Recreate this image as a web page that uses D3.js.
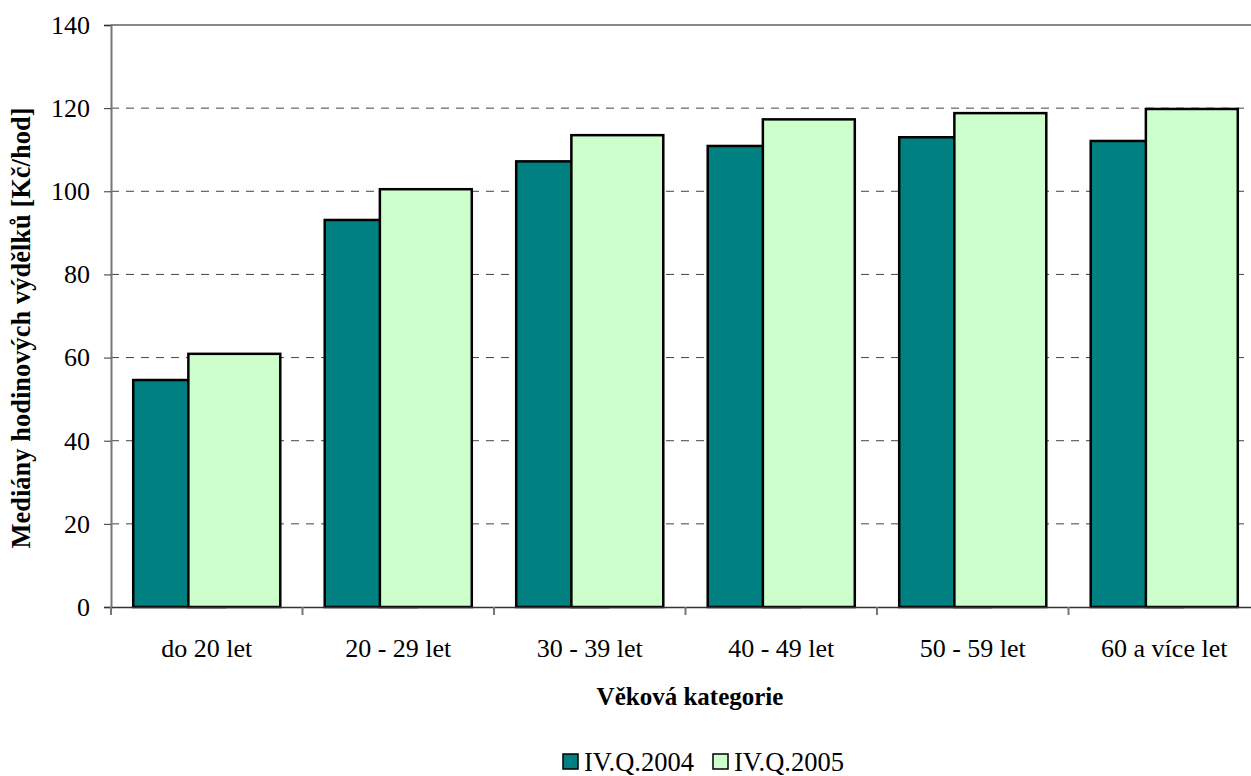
<!DOCTYPE html>
<html>
<head>
<meta charset="utf-8">
<script src="https://cdn.jsdelivr.net/npm/d3@7"></script>
<style>
  body { margin: 0; background: #fff; }
  svg { display: block; font-family: "Liberation Serif", "Times New Roman", serif; }
</style>
</head>
<body>
<div id="chart"></div>
<script>
// Data
const categories = ["do 20 let", "20 - 29 let", "30 - 39 let", "40 - 49 let", "50 - 59 let", "60 a více let"];
const seriesNames = ["IV.Q.2004", "IV.Q.2005"];
const values2004 = [54.6, 93.1, 107.2, 110.9, 113.0, 112.1];
const values2005 = [60.9, 100.5, 113.5, 117.3, 118.8, 119.8];
const yTicks = [0, 20, 40, 60, 80, 100, 120, 140];
const colors = ["#008080", "#ccffcc"];

const W = 1251, H = 776;
const plot = { left: 111, top: 25, right: 1260, bottom: 607 };

const svg = d3.select("#chart").append("svg")
    .attr("width", W)
    .attr("height", H);

// Scales
const x0 = d3.scaleBand()
    .domain(categories)
    .range([plot.left, plot.right]);

const y = d3.scaleLinear()
    .domain([0, 140])
    .range([plot.bottom, plot.top]);

// Bar geometry (Excel style: gap + overlap)
const barW = x0.bandwidth() * 0.48;
const offset = barW * 0.6;
const groupW = barW + offset;

// Gridlines
svg.append("g")
    .selectAll("line")
    .data(yTicks.filter(d => d > 0 && d < 140))
    .join("line")
    .attr("x1", plot.left)
    .attr("x2", plot.right)
    .attr("y1", d => y(d))
    .attr("y2", d => y(d))
    .attr("stroke", "#444")
    .attr("stroke-width", 1)
    .attr("stroke-dasharray", "8,7");

// Plot border top/right
svg.append("line")
    .attr("x1", plot.left).attr("x2", plot.right)
    .attr("y1", plot.top).attr("y2", plot.top)
    .attr("stroke", "#888").attr("stroke-width", 2);
svg.append("line")
    .attr("x1", plot.right).attr("x2", plot.right)
    .attr("y1", plot.top).attr("y2", plot.bottom)
    .attr("stroke", "#888").attr("stroke-width", 2);

// Bars
const series = [values2004, values2005];
series.forEach((vals, si) => {
    svg.append("g")
        .selectAll("rect")
        .data(vals)
        .join("rect")
        .attr("x", (d, i) => x0(categories[i]) + (x0.bandwidth() - groupW) / 2 + si * offset)
        .attr("y", d => y(d))
        .attr("width", barW)
        .attr("height", d => y(0) - y(d))
        .attr("fill", colors[si])
        .attr("stroke", "#000")
        .attr("stroke-width", 2.5);
});

// Y axis
const yAxis = svg.append("g")
    .attr("transform", `translate(${plot.left},0)`)
    .call(d3.axisLeft(y).tickValues(yTicks).tickSize(7).tickPadding(14));
yAxis.select(".domain").attr("stroke", "#777").attr("stroke-width", 2);
yAxis.selectAll(".tick line").attr("stroke", "#333");
yAxis.selectAll("text").attr("font-size", 26).attr("fill", "#000")
    .attr("font-family", "Liberation Serif");

// X axis
const xAxis = svg.append("g")
    .attr("transform", `translate(0,${plot.bottom})`)
    .call(d3.axisBottom(x0).tickSize(0).tickPadding(32));
xAxis.select(".domain").attr("stroke", "#333").attr("stroke-width", 1.5);
xAxis.selectAll("text").attr("font-size", 26).attr("fill", "#000")
    .attr("font-family", "Liberation Serif");

// category separator ticks
svg.append("g")
    .selectAll("line")
    .data(d3.range(categories.length + 1))
    .join("line")
    .attr("x1", i => plot.left + i * x0.step())
    .attr("x2", i => plot.left + i * x0.step())
    .attr("y1", plot.bottom)
    .attr("y2", plot.bottom + 8)
    .attr("stroke", "#777")
    .attr("stroke-width", 2);

// Axis titles
svg.append("text")
    .attr("x", 690)
    .attr("y", 705)
    .attr("text-anchor", "middle")
    .attr("font-size", 25)
    .attr("font-weight", "bold")
    .text("Věková kategorie");

svg.append("text")
    .attr("transform", "rotate(-90)")
    .attr("x", -328)
    .attr("y", 30)
    .attr("text-anchor", "middle")
    .attr("font-size", 26.5)
    .attr("font-weight", "bold")
    .text("Mediány hodinových výdělků [Kč/hod]");

// Legend
const legendX = [563, 713];
seriesNames.forEach((name, i) => {
    svg.append("rect")
        .attr("x", legendX[i])
        .attr("y", 754)
        .attr("width", 15)
        .attr("height", 15)
        .attr("fill", colors[i])
        .attr("stroke", "#000")
        .attr("stroke-width", 1.5);
    svg.append("text")
        .attr("x", legendX[i] + 21)
        .attr("y", 771)
        .attr("font-size", 26.5)
        .text(name);
});
</script>
</body>
</html>
